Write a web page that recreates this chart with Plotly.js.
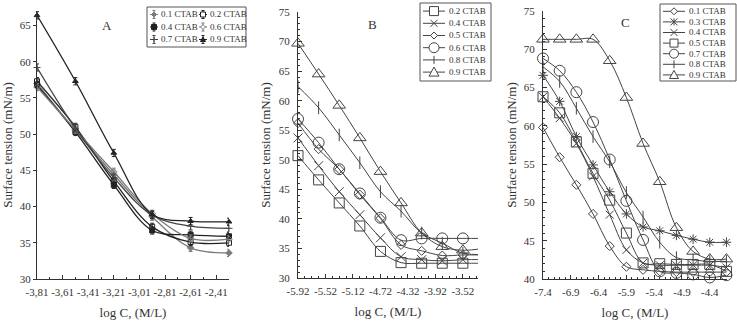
<!DOCTYPE html>
<html><head><meta charset="utf-8">
<script src="https://cdn.plot.ly/plotly-3.0.1.min.js"></script>
<style>html,body{margin:0;padding:0;background:#fff}#chart{width:737px;height:321px}</style>
</head><body><div id="chart"></div>
<script>
// ---------- Panel A ----------
const logC_A = [-3.81, -3.51, -3.21, -2.91, -2.61, -2.31];
const A_names = ['0.1 CTAB', '0.2 CTAB', '0.4 CTAB', '0.6 CTAB', '0.7 CTAB', '0.9 CTAB'];
const A_01 = [57.0, 50.5, 44.4, 38.6, 34.3, 33.6];
const A_02 = [57.3, 51.0, 43.5, 37.2, 35.1, 35.0];
const A_04 = [56.8, 50.3, 43.0, 36.7, 36.1, 35.9];
const A_06 = [56.5, 50.6, 44.8, 39.0, 35.6, 35.5];
const A_07 = [59.2, 50.8, 44.0, 38.8, 37.3, 37.0];
const A_09 = [66.4, 57.3, 47.4, 38.9, 38.0, 37.9];
const A_xticks = [-3.81, -3.61, -3.41, -3.21, -3.01, -2.81, -2.61, -2.41];
const A_xticktext = ['-3,81', '-3,61', '-3,41', '-3,21', '-3,01', '-2,81', '-2,61', '-2,41'];

// ---------- Panel B ----------
const logC_B = [-5.92, -5.62, -5.32, -5.02, -4.72, -4.42, -4.12, -3.82, -3.52, -3.22];
const B_names = ['0.2 CTAB', '0.4 CTAB', '0.5 CTAB', '0.6 CTAB', '0.8 CTAB', '0.9 CTAB'];
const B_02 = [50.7, 46.6, 42.7, 38.8, 34.5, 32.6, 32.5, 32.5, 32.5, 32.5];
const B_04 = [53.7, 49.0, 44.6, 40.7, 36.8, 33.6, 33.1, 32.9, 33.1, 33.1];
const B_05 = [56.2, 51.8, 48.4, 44.1, 40.1, 35.6, 34.6, 33.8, 33.9, 33.9];
const B_06 = [56.9, 52.9, 48.4, 44.3, 40.2, 36.4, 36.7, 36.7, 36.7, 36.7];
const B_08 = [62.4, 58.8, 54.2, 49.5, 44.6, 41.3, 37.6, 35.9, 34.2, 34.0];
const B_09 = [69.7, 64.5, 59.2, 53.7, 48.0, 42.7, 37.6, 35.3, 34.7, 35.0];
const B_xticks = [-5.92, -5.52, -5.12, -4.72, -4.32, -3.92, -3.52];
const B_xticktext = ['-5.92', '-5.52', '-5.12', '-4.72', '-4.32', '-3.92', '-3.52'];

// ---------- Panel C ----------
const logC_C = [-7.4, -7.1, -6.8, -6.5, -6.2, -5.9, -5.6, -5.3, -5.0, -4.7, -4.4, -4.1];
const C_names = ['0.1 CTAB', '0.3 CTAB', '0.4 CTAB', '0.5 CTAB', '0.7 CTAB', '0.8 CTAB', '0.9 CTAB'];
const C_01 = [59.8, 55.9, 52.3, 48.5, 44.3, 41.6, 41.2, 41.0, 40.9, 40.9, 40.9, 40.9];
const C_03 = [66.6, 63.2, 58.6, 54.9, 51.4, 48.5, 46.8, 46.3, 45.7, 45.2, 44.8, 44.8];
const C_04 = [63.8, 61.0, 57.7, 53.4, 48.4, 43.8, 42.1, 41.8, 41.8, 41.8, 41.8, 41.5];
const C_05 = [63.8, 61.7, 57.9, 53.8, 50.3, 46.0, 42.1, 42.0, 41.9, 41.9, 41.9, 41.0];
const C_07 = [68.8, 67.2, 64.4, 60.5, 55.6, 50.2, 45.1, 41.0, 40.8, 40.6, 40.2, 40.5];
const C_08 = [67.7, 65.8, 62.3, 58.6, 55.3, 51.3, 48.1, 44.8, 42.8, 42.5, 42.3, 42.3];
const C_09 = [71.3, 71.3, 71.3, 71.3, 68.5, 63.7, 57.7, 52.7, 46.7, 43.6, 42.6, 42.6];
const C_xticks = [-7.4, -6.9, -6.4, -5.9, -5.4, -4.9, -4.4];
const C_xticktext = ['-7.4', '-6.9', '-6.4', '-5.9', '-5.4', '-4.9', '-4.4'];

// ---------- styling ----------
const F = 'Liberation Serif, Times New Roman, serif';
const W = 737, H = 321;
const fx = p => p / W;
const fy = p => 1 - p / H;
const INK = '#444';

const traces = [];

const A_series = [A_01, A_02, A_04, A_06, A_07, A_09];
const A_sym = ['diamond', 'square-open', 'square', 'diamond-open', 'cross-thin-open', 'triangle-up'];
const A_col = ['#7a7a7a', '#222', '#222', '#7a7a7a', '#444', '#222'];
A_series.forEach((ys, i) => {
  traces.push({
    x: logC_A, y: ys, name: A_names[i], xaxis: 'x', yaxis: 'y', showlegend: false,
    type: 'scatter', mode: 'lines+markers', cliponaxis: false,
    line: {shape: 'spline', smoothing: 1, color: A_col[i], width: 1.3},
    marker: {symbol: A_sym[i], size: 5, color: A_col[i], line: {width: 1, color: A_col[i]}},
    error_y: {type: 'constant', value: 0.5, thickness: 1, width: 2, color: A_col[i]}
  });
});

const B_series = [B_02, B_04, B_05, B_06, B_08, B_09];
const B_sym = ['square-open', 'x-thin-open', 'diamond-open', 'circle-open', 'line-ns-open', 'triangle-up-open'];
const B_size = [10, 9, 7, 11, 9, 11];
B_series.forEach((ys, i) => {
  const op = logC_B.map((v, k) => (k === logC_B.length - 1 ? 0 : 1));
  traces.push({
    x: logC_B, y: ys, name: B_names[i], xaxis: 'x2', yaxis: 'y2', showlegend: false,
    type: 'scatter', mode: 'lines+markers', cliponaxis: false,
    line: {shape: 'spline', smoothing: 1, color: INK, width: 1},
    marker: {symbol: B_sym[i], size: B_size[i], color: INK, opacity: op, line: {width: 1, color: INK}}
  });
});

const C_series = [C_01, C_03, C_04, C_05, C_07, C_08, C_09];
const C_sym = ['diamond-open', 'asterisk-open', 'x-thin-open', 'square-open', 'circle-open', 'line-ns-open', 'triangle-up-open'];
const C_size = [7, 8, 8, 10, 11, 9, 11];
C_series.forEach((ys, i) => {
  traces.push({
    x: logC_C, y: ys, name: C_names[i], xaxis: 'x3', yaxis: 'y3', showlegend: false,
    type: 'scatter', mode: 'lines+markers', cliponaxis: false,
    line: {shape: 'spline', smoothing: 1, color: INK, width: 1},
    marker: {symbol: C_sym[i], size: C_size[i], color: INK, line: {width: 1, color: INK}}
  });
});

// ---------- legend boxes drawn as layout decorations ----------
const shapes = [];
const annotations = [];
const P = (x, y) => `${fx(x)},${fy(y)}`;
function glyph(sym, cx, cy, r, color) {
  const base = {xref: 'paper', yref: 'paper', line: {color: color, width: 1}, layer: 'above'};
  const filled = !/open/.test(sym);
  const s = sym.replace('-open', '');
  if (s === 'square') return [Object.assign({type: 'rect', x0: fx(cx - r), x1: fx(cx + r), y0: fy(cy + r), y1: fy(cy - r), fillcolor: filled ? color : '#fff'}, base)];
  if (s === 'circle') return [Object.assign({type: 'circle', x0: fx(cx - r), x1: fx(cx + r), y0: fy(cy + r), y1: fy(cy - r), fillcolor: '#fff'}, base)];
  let path;
  if (s === 'diamond') path = `M${P(cx, cy - r)}L${P(cx + r, cy)}L${P(cx, cy + r)}L${P(cx - r, cy)}Z`;
  else if (s === 'triangle-up') path = `M${P(cx, cy - r)}L${P(cx + r, cy + r * 0.8)}L${P(cx - r, cy + r * 0.8)}Z`;
  else if (s === 'x-thin') path = `M${P(cx - r, cy - r)}L${P(cx + r, cy + r)}M${P(cx - r, cy + r)}L${P(cx + r, cy - r)}`;
  else if (s === 'asterisk') path = `M${P(cx - r, cy - r)}L${P(cx + r, cy + r)}M${P(cx - r, cy + r)}L${P(cx + r, cy - r)}M${P(cx, cy - r)}L${P(cx, cy + r)}`;
  else if (s === 'line-ns') path = `M${P(cx, cy - r)}L${P(cx, cy + r)}`;
  else if (s === 'cross-thin') path = `M${P(cx - r, cy)}L${P(cx + r, cy)}M${P(cx, cy - r)}L${P(cx, cy + r)}`;
  const isClosed = /Z$/.test(path);
  return [Object.assign({type: 'path', path: path, fillcolor: isClosed ? (filled ? color : '#fff') : undefined}, base)];
}
function label(text, x, y, size) {
  annotations.push({text: text, xref: 'paper', yref: 'paper', x: fx(x), y: fy(y), xanchor: 'left', yanchor: 'middle',
    showarrow: false, borderpad: 0, font: {family: F, size: size, color: '#333'}});
}
function box(x0, y0, x1, y1) {
  shapes.push({type: 'rect', xref: 'paper', yref: 'paper', x0: fx(x0), x1: fx(x1), y0: fy(y1), y1: fy(y0),
    line: {color: '#555', width: 1}, fillcolor: '#fff', layer: 'above'});
}
// vertical list legend (panels B, C)
function listLegend(x0, y0, x1, y1, rowH, names, syms, sizes) {
  box(x0, y0, x1, y1);
  names.forEach((n, i) => {
    const cy = y0 + rowH * (i + 0.5) + 2;
    const cx = x0 + 14;
    shapes.push({type: 'line', xref: 'paper', yref: 'paper', x0: fx(x0 + 3), x1: fx(x0 + 25), y0: fy(cy), y1: fy(cy),
      line: {color: INK, width: 1}, layer: 'above'});
    glyph(syms[i], cx, cy, sizes[i] / 2, INK).forEach(s => shapes.push(s));
    label(n, x0 + 28, cy, 9);
  });
}
// two-column legend (panel A)
function gridLegend(x0, y0, x1, y1, rowH, colW, names, syms, cols) {
  box(x0, y0, x1, y1);
  names.forEach((n, i) => {
    const r = Math.floor(i / 2), c = i % 2;
    const cx = x0 + 7 + c * colW, cy = y0 + 7.5 + r * rowH;
    shapes.push({type: 'path', xref: 'paper', yref: 'paper', layer: 'above', line: {color: cols[i], width: 1},
      path: `M${P(cx - 4, cy)}L${P(cx + 4, cy)}M${P(cx, cy - 4)}L${P(cx, cy + 4)}M${P(cx - 1.5, cy - 4)}L${P(cx + 1.5, cy - 4)}M${P(cx - 1.5, cy + 4)}L${P(cx + 1.5, cy + 4)}`});
    glyph(syms[i], cx, cy, 2.5, cols[i]).forEach(s => shapes.push(s));
    label(n, cx + 5.5, cy, 9);
  });
}
gridLegend(147, 7, 246, 47, 12.5, 49, A_names, A_sym, A_col);
listLegend(420, 3, 491, 81, 12.2, B_names, B_sym, [9, 7, 7, 10, 8, 10]);
listLegend(660, 4, 736, 81, 10.6, C_names, C_sym, [7, 7, 7, 8, 9, 8, 9]);

['A', 'B', 'C'].forEach((t, i) => {
  const pos = [[100, 16], [372, 15], [632, 13]][i];
  annotations.push({text: t, xref: 'paper', yref: 'paper', x: fx(pos[0]), y: fy(pos[1]), showarrow: false,
    font: {family: F, size: 13, color: '#333'}});
});

function ax(o) {
  return Object.assign({
    showgrid: false, zeroline: false, showline: true, linecolor: '#333', linewidth: 1,
    ticks: 'inside', ticklen: 4, tickcolor: '#333', tickwidth: 1,
    tickfont: {family: F, size: 11, color: '#333'}, fixedrange: true, automargin: false
  }, o);
}
const xTitle = {text: 'log C, (M/L)', font: {family: F, size: 13, color: '#333'}, standoff: 10};
const yTitle = (s) => ({text: 'Surface tension (mN/m)', font: {family: F, size: 13, color: '#333'}, standoff: s});

const layout = {
  width: W, height: H, margin: {l: 0, r: 0, t: 0, b: 0},
  paper_bgcolor: '#fff', plot_bgcolor: 'rgba(0,0,0,0)', showlegend: false,
  font: {family: F, color: '#333'},
  xaxis: ax({domain: [fx(37), fx(229)], range: [-3.81, -2.31], anchor: 'y',
    tickmode: 'array', tickvals: A_xticks, ticktext: A_xticktext, ticklabelstandoff: 3,
    minor: {tick0: -3.81, dtick: 0.1, ticks: 'inside', ticklen: 2, tickcolor: '#333'},
    title: xTitle}),
  yaxis: ax({domain: [fy(279), fy(11)], range: [30, 67], anchor: 'x', dtick: 5, tick0: 30,
    ticks: 'outside', ticklen: 3, title: yTitle(5)}),
  xaxis2: ax({domain: [fx(298), fx(478)], range: [-5.92, -3.30], anchor: 'y2',
    tickmode: 'array', tickvals: B_xticks, ticktext: B_xticktext, ticklabelstandoff: 3,
    minor: {tick0: -5.92, dtick: 0.1, ticks: 'inside', ticklen: 2, tickcolor: '#333'},
    title: xTitle}),
  yaxis2: ax({domain: [fy(278), fy(12)], range: [30, 75], anchor: 'x2', dtick: 5, tick0: 30,
    ticklabelstandoff: 5,
    minor: {dtick: 1, ticks: 'inside', ticklen: 2, tickcolor: '#333'}, title: yTitle(5)}),
  xaxis3: ax({domain: [fx(543), fx(727)], range: [-7.4, -4.09], anchor: 'y3',
    tickmode: 'array', tickvals: C_xticks, ticktext: C_xticktext, ticklabelstandoff: 3,
    minor: {tick0: -7.4, dtick: 0.1, ticks: 'inside', ticklen: 2, tickcolor: '#333'},
    title: xTitle}),
  yaxis3: ax({domain: [fy(279), fy(11)], range: [40, 75], anchor: 'x3', dtick: 5, tick0: 40,
    ticklabelstandoff: 5,
    minor: {dtick: 1, ticks: 'inside', ticklen: 2, tickcolor: '#333'}, title: yTitle(4)}),
  shapes: shapes,
  annotations: annotations
};

Plotly.newPlot('chart', traces, layout, {staticPlot: true, displayModeBar: false});
</script>
</body></html>
